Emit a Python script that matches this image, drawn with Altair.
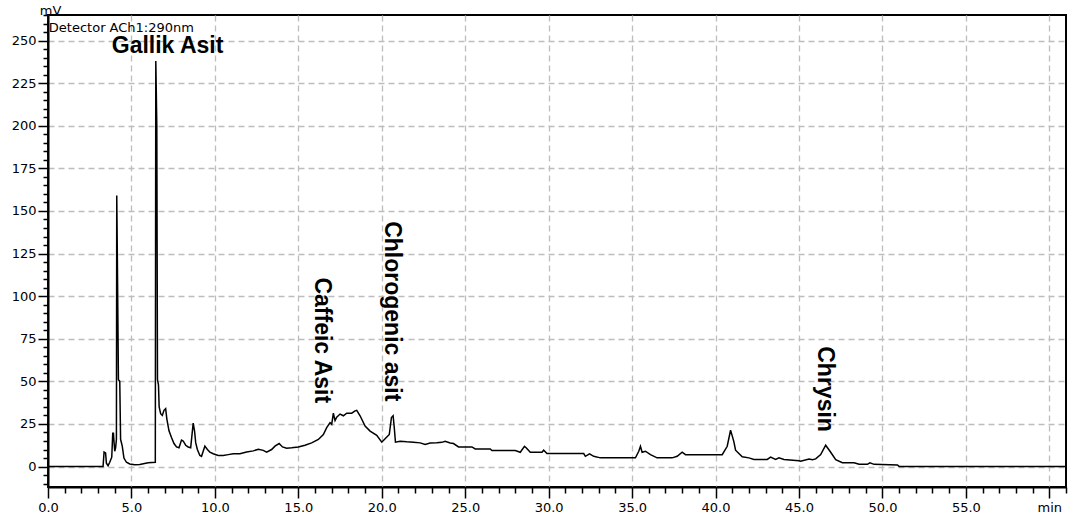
import altair as alt
import pandas as pd

# Chromatogram trace (retention time in min, detector signal in mV)
time_min = [0.0, 3.30, 3.36, 3.45, 3.50, 3.60, 3.70, 3.82, 3.88, 3.92, 3.96, 4.00, 4.05, 4.10,
            4.12, 4.15, 4.22, 4.30, 4.35, 4.45, 4.55, 4.70, 4.90, 5.20, 5.50, 6.00, 6.43,
            6.46, 6.52, 6.56, 6.62, 6.66, 6.75, 6.85, 6.95, 7.05, 7.12, 7.25, 7.40, 7.55,
            7.70, 7.85, 8.00, 8.10, 8.25, 8.40, 8.55, 8.70, 8.78, 8.85, 8.95, 9.10, 9.20,
            9.30, 9.40, 9.55, 9.70, 9.90, 10.2, 10.5, 10.8, 11.1, 11.5, 11.9, 12.3, 12.6,
            12.9, 13.1, 13.4, 13.6, 13.85, 14.05, 14.3, 14.6, 15.0, 15.4, 15.8, 16.2, 16.5,
            16.7, 16.9, 17.0, 17.1, 17.2, 17.3, 17.5, 17.7, 17.9, 18.2, 18.4, 18.5, 18.7,
            19.0, 19.3, 19.7, 20.0, 20.2, 20.45, 20.58, 20.68, 20.75, 20.82, 21.1, 21.5,
            21.9, 22.3, 22.6, 22.9, 23.3, 23.6, 23.8, 24.1, 24.3, 24.6, 25.4, 25.6, 26.5,
            26.6, 28.0, 28.3, 28.55, 28.65, 28.9, 29.6, 29.7, 29.9, 32.1, 32.2, 32.45,
            32.7, 33.1, 35.2, 35.4, 35.5, 35.6, 35.8, 36.1, 36.5, 37.4, 37.7, 38.0, 38.2,
            40.4, 40.7, 40.9, 41.0, 41.1, 41.2, 41.6, 42.0, 42.3, 43.1, 43.3, 43.6, 43.8,
            44.1, 45.0, 45.1, 45.6, 45.8, 46.0, 46.3, 46.6, 46.9, 47.2, 47.6, 48.3, 48.6,
            49.1, 49.25, 49.5, 50.9, 51.0, 61.0]
signal_mv = [0.0, 0.0, 8.5, 8.0, 2.0, 0.5, 2.5, 5.5, 19.5, 19.5, 14.0, 9.0, 11.0, 16.0,
             159.0, 129.0, 51.0, 50.0, 16.0, 12.0, 5.0, 2.5, 1.5, 1.0, 1.2, 2.2, 2.5,
             238.0, 200.0, 51.0, 48.0, 35.0, 31.0, 30.0, 33.0, 34.0, 28.0, 21.0, 17.0, 13.5,
             11.5, 11.0, 15.5, 15.0, 12.5, 11.5, 11.0, 25.5, 21.0, 14.0, 10.0, 6.5, 6.0,
             9.0, 12.0, 10.0, 8.5, 7.5, 6.5, 6.5, 7.0, 7.5, 7.5, 8.5, 9.2, 10.2,
             9.5, 8.5, 10.0, 12.0, 13.5, 11.5, 10.8, 11.0, 11.5, 12.5, 13.9, 15.9, 18.8,
             22.8, 25.8, 24.8, 31.3, 27.0, 29.0, 30.8, 29.8, 31.3, 31.3, 32.7, 33.0, 29.8,
             23.8, 20.8, 18.3, 14.3, 16.3, 18.8, 28.8, 29.8, 22.8, 14.3, 14.9, 14.5,
             14.3, 13.9, 13.0, 13.8, 13.9, 14.2, 14.8, 13.8, 13.5, 11.5, 11.5, 10.3, 10.3,
             9.4, 9.4, 8.4, 11.9, 11.0, 8.4, 8.4, 9.6, 7.6, 7.6, 6.0, 7.4,
             6.0, 5.1, 5.1, 9.0, 11.9, 8.4, 9.0, 7.0, 5.1, 5.1, 6.0, 8.4, 7.0,
             7.0, 11.9, 21.3, 18.0, 14.5, 9.6, 5.7, 5.1, 4.2, 4.2, 5.5, 4.2, 5.1,
             4.2, 3.4, 3.1, 4.4, 4.0, 4.5, 7.0, 12.5, 8.4, 4.0, 2.2, 2.2, 1.3,
             1.3, 2.2, 1.3, 0.9, 0.1, 0.1]

# Peak annotations
peak_names = ["Caffeic Asit", "Chlorogenic asit", "Chrysin"]
peak_time = [16.42, 20.6, 46.55]
peak_mv = [111.0, 144.0, 70.6]

main_label = ["Gallik Asit"]
main_time = [3.82]
main_mv = [242.5]

detector_text = ["Detector ACh1:290nm"]
detector_time = [0.05]
detector_mv = [255.3]

x_ticks = list(range(0, 62, 1))      # major every 5, minor every 1
y_ticks = list(range(-10, 266, 5))   # major every 25, minor every 5

trace = pd.DataFrame({"t": time_min, "mv": signal_mv})
peaks = pd.DataFrame({"t": peak_time, "mv": peak_mv, "name": peak_names})
main = pd.DataFrame({"t": main_time, "mv": main_mv, "name": main_label})
det = pd.DataFrame({"t": detector_time, "mv": detector_mv, "name": detector_text})

xs = alt.Scale(domain=[0, 61], nice=False, zero=False)
ys = alt.Scale(domain=[-12, 265], nice=False, zero=False)

axis_common = dict(
    labelFont="DejaVu Sans", labelFontSize=13, labelColor="black",
    tickColor="black", tickWidth=1.5, domainColor="black", domainWidth=2,
    gridColor="#bdbdbd", gridDash=[6, 4], gridWidth=1.3, labelFlush=False,
    labelOverlap=False, grid=True, tickCount=500,
)

x_major_test = "datum.value % 5 === 0"
y_major_test = "datum.value % 25 === 0 && datum.value >= 0"

x_axis = alt.Axis(
    orient="bottom", values=x_ticks, labelPadding=3, title=None,
    tickSize={"condition": {"test": x_major_test, "value": 11}, "value": 6},
    gridOpacity={"condition": {"test": x_major_test, "value": 1}, "value": 0},
    labelExpr="datum.value % 5 !== 0 ? '' : (datum.value == 60 ? 'min' : format(datum.value, '.1f'))",
    **axis_common)

y_axis = alt.Axis(
    orient="left", values=y_ticks, labelPadding=2,
    tickSize={"condition": {"test": y_major_test, "value": 10}, "value": 5},
    gridOpacity={"condition": {"test": y_major_test, "value": 1}, "value": 0},
    labelExpr="(datum.value % 25 === 0 && datum.value >= 0) ? format(datum.value, 'd') : ''",
    title="mV", titleAngle=0, titleX=2, titleY=-1, titleAlign="center",
    titleBaseline="alphabetic", titleFont="DejaVu Sans", titleFontSize=13,
    titleFontWeight="normal", titleColor="black", **axis_common)

line = alt.Chart(trace).mark_line(color="black", strokeWidth=1.5, clip=True).encode(
    x=alt.X("t:Q", scale=xs, axis=x_axis),
    y=alt.Y("mv:Q", scale=ys, axis=y_axis),
)

peak_text = alt.Chart(peaks).mark_text(
    angle=90, align="left", baseline="middle", font="Liberation Sans",
    fontWeight="bold", fontSize=23, color="black").encode(
    x=alt.X("t:Q", scale=xs),
    y=alt.Y("mv:Q", scale=ys),
    text="name:N",
)

main_text = alt.Chart(main).mark_text(
    align="left", baseline="alphabetic", font="Liberation Sans",
    fontWeight="bold", fontSize=23, color="black").encode(
    x=alt.X("t:Q", scale=xs),
    y=alt.Y("mv:Q", scale=ys),
    text="name:N",
)

det_text = alt.Chart(det).mark_text(
    align="left", baseline="alphabetic", font="DejaVu Sans",
    fontSize=13, color="black").encode(
    x=alt.X("t:Q", scale=xs),
    y=alt.Y("mv:Q", scale=ys),
    text="name:N",
)

chart = alt.layer(line, peak_text, main_text, det_text).properties(
    width=1018, height=472,
    autosize=alt.AutoSizeParams(type="none"),
    padding={"left": 48, "top": 15, "right": 8, "bottom": 40},
    background="white",
).configure_view(stroke="black", strokeWidth=2)

chart.save("out.html", embed_options={"renderer": "svg", "actions": False})
